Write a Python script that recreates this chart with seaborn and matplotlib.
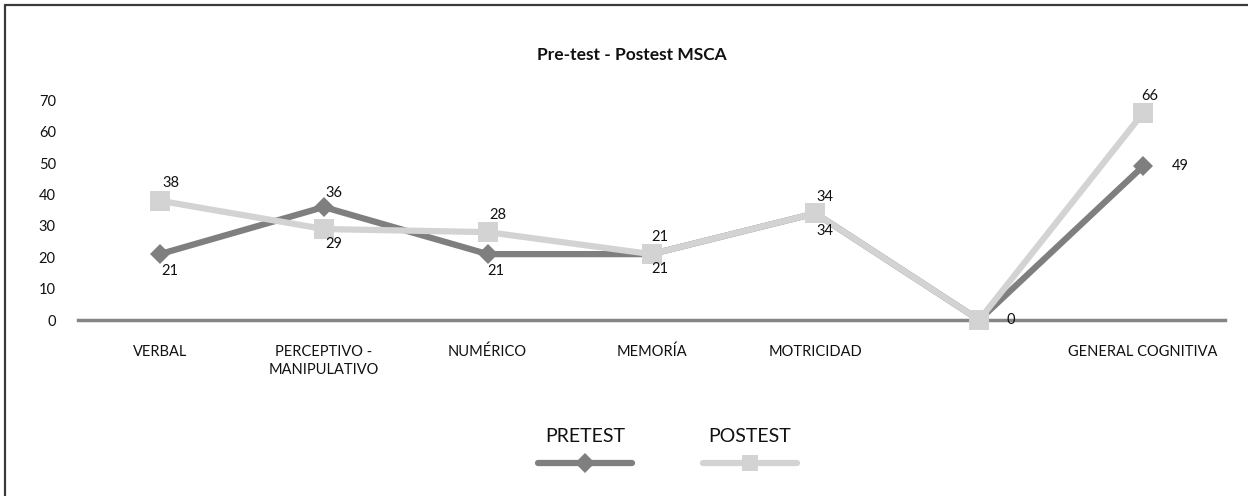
import numpy as np
import pandas as pd
import matplotlib
matplotlib.use("Agg")
import matplotlib.pyplot as plt
from matplotlib.lines import Line2D
import seaborn as sns

categories = ["VERBAL", "PERCEPTIVO -\nMANIPULATIVO", "NUMÉRICO", "MEMORÍA",
              "MOTRICIDAD", "", "GENERAL COGNITIVA"]
pretest = [21, 36, 21, 21, 34, 0, 49]
postest = [38, 29, 28, 21, 34, 0, 66]
series_names = ["PRETEST", "POSTEST"]
y_ticks = [0, 10, 20, 30, 40, 50, 60, 70]

sns.set_theme(style="white")
plt.rcParams["font.family"] = ["Lato", "DejaVu Sans"]

PRE_C = "#7f7f7f"
POST_C = "#d3d3d3"
TXT = "#111111"

fig = plt.figure(figsize=(12.48, 4.96), dpi=100)
fig.patch.set_facecolor("white")
ax = fig.add_axes([78 / 1248, (496 - 320) / 496, 1147 / 1248, 251 / 496])

x = np.arange(len(categories))
df = pd.DataFrame({"x": np.concatenate([x, x]),
                   "y": pretest + postest,
                   "serie": [series_names[0]] * len(x) + [series_names[1]] * len(x)})

sns.lineplot(data=df[df.serie == "POSTEST"], x="x", y="y", ax=ax, color=POST_C,
             linewidth=4.5, marker="s", markersize=14, markeredgewidth=0, legend=False,
             zorder=3, clip_on=False)
sns.lineplot(data=df[df.serie == "PRETEST"], x="x", y="y", ax=ax, color=PRE_C,
             linewidth=4.5, marker="D", markersize=10, markeredgewidth=0, legend=False,
             zorder=2, clip_on=False)

ax.set_xlim(-0.5, len(categories) - 0.5)
ax.set_ylim(0, 80)
ax.set_yticks(y_ticks)
ax.set_yticklabels([str(t) for t in y_ticks], fontsize=10.5, color=TXT)
ax.set_xticks(x)
ax.set_xticklabels(categories, fontsize=10.5, color=TXT, linespacing=1.35)
ax.tick_params(axis="x", length=0, pad=18)
ax.tick_params(axis="y", length=0, pad=16)
ax.set_xlabel("")
ax.set_ylabel("")
for s in ["top", "right", "left"]:
    ax.spines[s].set_visible(False)
ax.spines["bottom"].set_color("#868686")
ax.spines["bottom"].set_linewidth(2.5)
ax.spines["bottom"].set_zorder(1)
ax.grid(False)

# data labels (offsets in points)
pre_off = [(7, -12), (7, 10), (6, -12), (6, -11), (7, -13), (23, 0), (27, 0)]
post_off = [(8, 13), (7, -11), (7, 12), (6, 12), (7, 12), None, (5, 12)]
for i, v in enumerate(pretest):
    dx, dy = pre_off[i]
    ax.annotate(str(v), (x[i], v), xytext=(dx, dy), textcoords="offset points",
                ha="center", va="center", fontsize=10.5, color=TXT, zorder=5)
for i, v in enumerate(postest):
    if post_off[i] is None:
        continue
    dx, dy = post_off[i]
    ax.annotate(str(v), (x[i], v), xytext=(dx, dy), textcoords="offset points",
                ha="center", va="center", fontsize=10.5, color=TXT, zorder=5)

fig.text(632 / 1248, (496 - 55) / 496, "Pre-test - Postest MSCA", ha="center",
         va="center", fontsize=12.5, fontweight="bold", color=TXT)

# legend (text above sample line)
def leg(xc, name, color, marker, ms):
    fig.text(xc / 1248, (496 - 437) / 496, name, ha="center", va="center",
             fontsize=14, color=TXT)
    y = (496 - 463) / 496
    fig.add_artist(Line2D([(xc - 47) / 1248, (xc + 47) / 1248], [y, y],
                          transform=fig.transFigure, color=color, linewidth=4.5,
                          solid_capstyle="round"))
    fig.add_artist(Line2D([xc / 1248], [y], transform=fig.transFigure, color=color,
                          marker=marker, markersize=ms, markeredgewidth=0))

leg(585, series_names[0], PRE_C, "D", 10)
leg(750, series_names[1], POST_C, "s", 12)

# chart border (left and top visible)
fig.add_artist(Line2D([4.5 / 1248, 4.5 / 1248], [0, 1 - 5 / 496], transform=fig.transFigure,
                      color="#3a3a3a", linewidth=1.6))
fig.add_artist(Line2D([4.5 / 1248, 1], [1 - 5 / 496, 1 - 5 / 496], transform=fig.transFigure,
                      color="#3a3a3a", linewidth=1.6))

fig.savefig("out.png", dpi=100, facecolor="white")
